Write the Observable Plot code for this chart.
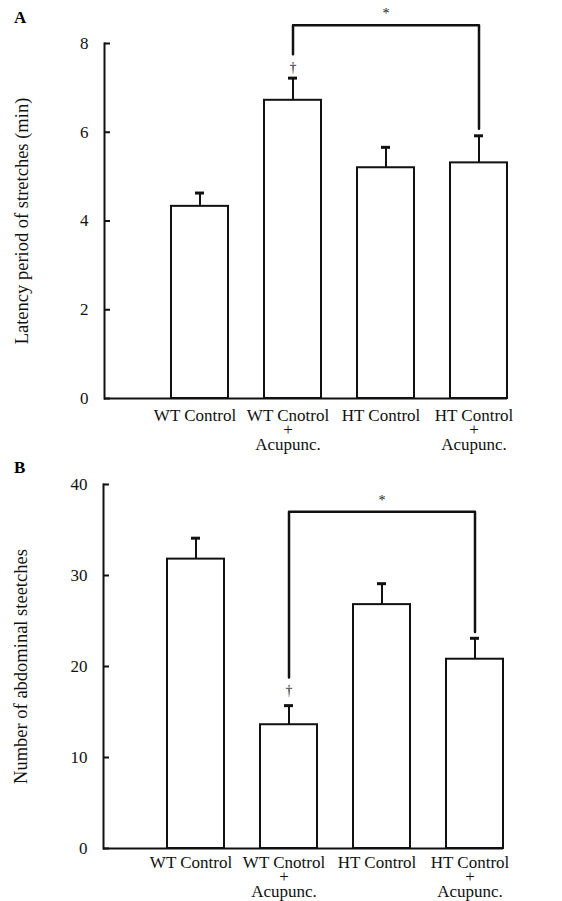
<!DOCTYPE html>
<html>
<head>
<meta charset="utf-8">
<script src="https://cdn.jsdelivr.net/npm/d3@7"></script>
<script src="https://cdn.jsdelivr.net/npm/@observablehq/plot@0.6"></script>
<style>
  html, body { margin: 0; padding: 0; background: #fff; }
  .panel { position: relative; width: 562px; }
  .plabel { position: absolute; left: 14px; font: bold 17px "Liberation Serif", "Times New Roman", serif; z-index: 2; }
  svg { display: block; overflow: visible; }
  #a { z-index: 1; }
</style>
</head>
<body>
<div id="a" class="panel"><div class="plabel" style="top:8px">A</div></div>
<div id="b" class="panel"><div class="plabel" style="top:8px">B</div></div>
<script>
const categories = ["WT Control", "WT Cnotrol\n+\nAcupunc.", "HT Control", "HT Control\n+\nAcupunc."];

// Panel A: latency period of stretches (min)
const latencyMean = [4.33, 6.72, 5.20, 5.31];
const latencyUpper = [4.63, 7.22, 5.66, 5.92];
const latencyTicks = [0, 2, 4, 6, 8];
const latencyBracketGroups = [categories[1], categories[1], categories[3], categories[3]];
const latencyBracketY = [7.76, 8.41, 8.41, 6.08];
const latencyStar = {x: categories[2], y: 8.67, text: "*"};
const latencyDagger = {x: categories[1], y: 7.46, text: "†"};

// Panel B: number of abdominal stretches
const stretchMean = [31.8, 13.6, 26.8, 20.8];
const stretchUpper = [34.1, 15.7, 29.1, 23.1];
const stretchTicks = [0, 10, 20, 30, 40];
const stretchBracketGroups = [categories[1], categories[1], categories[3], categories[3]];
const stretchBracketY = [18.8, 37.0, 37.0, 23.8];
const stretchStar = {x: categories[2], y: 38.2, text: "*"};
const stretchDagger = {x: categories[1], y: 17.4, text: "†"};

function panel({mean, upper, ticks, domain, label, bracketGroups, bracketY, star, dagger, height, margins, pad}) {
  const rows = categories.map((c, i) => ({cat: c, mean: mean[i], upper: upper[i]}));
  const bracket = bracketGroups.map((g, i) => ({cat: g, y: bracketY[i]}));
  const plotWidth = 562 - margins[1] - margins[3];
  return Plot.plot({
    width: 562,
    height,
    marginTop: margins[0],
    marginRight: margins[1],
    marginBottom: margins[2],
    marginLeft: margins[3],
    style: {fontFamily: "'Liberation Serif', 'Times New Roman', serif", fontSize: "17px", color: "#111", background: "none", overflow: "visible"},
    x: {domain: categories, paddingInner: 0.39, paddingOuter: 0.34, align: 1},
    y: {domain, ticks},
    marks: [
      Plot.barY(rows, {x: "cat", y: "mean", fill: "white", stroke: "#111", strokeWidth: 2}),
      Plot.ruleX(rows, {x: "cat", y1: "mean", y2: "upper", stroke: "#111", strokeWidth: 2}),
      Plot.tickY(rows, {x: "cat", y: "upper", stroke: "#111", strokeWidth: 3, insetLeft: 24, insetRight: 24}),
      Plot.line(bracket, {x: "cat", y: "y", stroke: "#111", strokeWidth: 2.5, curve: "linear"}),
      Plot.text([star, dagger], {x: "x", y: "y", text: "text", fontSize: 14, fill: "#222"}),
      Plot.axisX({tickSize: 0, tickPadding: pad, lineHeight: 0.85, dx: -5, textAnchor: "middle", fill: "#111", label: null}),
      Plot.ruleY([0], {stroke: "#111", strokeWidth: 2}),
      Plot.axisY({ticks, tickSize: 0, tickPadding: 16, label: null, fill: "#111"}),
      Plot.axisY({ticks: [], tickSize: 0, label, labelAnchor: "center", labelOffset: 90, labelArrow: "none", fontSize: 18.5, fill: "#111"}),
      Plot.tickY(ticks, {y: d => d, stroke: "#111", strokeWidth: 2, insetRight: plotWidth - 6}),
      Plot.frame({anchor: "left", stroke: "#111", strokeWidth: 2})
    ]
  });
}

document.getElementById("a").appendChild(panel({
  mean: latencyMean, upper: latencyUpper, ticks: latencyTicks, domain: [0, 8],
  label: "Latency period of stretches (min)",
  bracketGroups: latencyBracketGroups, bracketY: latencyBracketY,
  star: latencyStar, dagger: latencyDagger,
  height: 450, margins: [43, 55, 52, 104], pad: 12
}));
document.getElementById("b").appendChild(panel({
  mean: stretchMean, upper: stretchUpper, ticks: stretchTicks, domain: [0, 40],
  label: "Number of abdominal steetches",
  bracketGroups: stretchBracketGroups, bracketY: stretchBracketY,
  star: stretchStar, dagger: stretchDagger,
  height: 451, margins: [34, 59, 53, 103], pad: 9
}));
</script>
</body>
</html>
